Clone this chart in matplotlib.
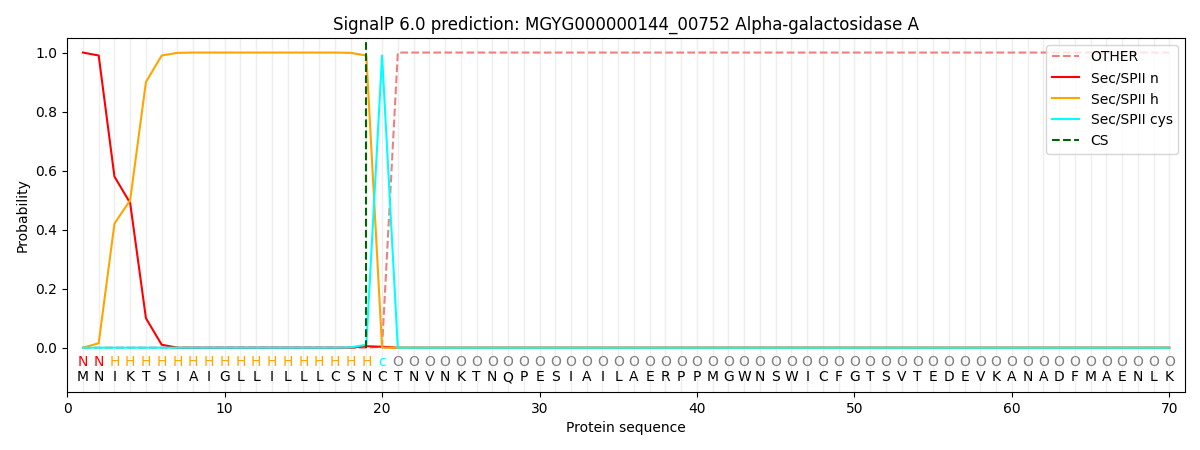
import numpy as np
import matplotlib
matplotlib.use("Agg")
import matplotlib.pyplot as plt

sequence = "MNIKTSIAIGLLILLLCSNCTNVNKTNQPESIAILAERPPMGWNSWICFGTSVTEDEVKANADFMAENLK"
regions = "NN" + "H" * 17 + "c" + "O" * 50

n_res = len(sequence)
pos = np.arange(1, n_res + 1)

# probabilities
p_n = [1.0, 0.99, 0.58, 0.49, 0.10, 0.01, 0.0, 0.0, 0.0, 0.0,
       0.0, 0.0, 0.0, 0.0, 0.0, 0.0, 0.0, 0.0, 0.005, 0.003] + [0.0] * 50
p_h = [0.0, 0.015, 0.42, 0.50, 0.90, 0.99, 0.999, 1.0, 1.0, 1.0,
       1.0, 1.0, 1.0, 1.0, 1.0, 1.0, 1.0, 0.999, 0.99, 0.0] + [0.0] * 50
p_cys = [0.0] * 17 + [0.001, 0.01, 0.99] + [0.0] * 50
p_other = [0.0] * 19 + [0.003] + [1.0] * 50
cs_pos = 19

region_colors = {"N": "red", "H": "orange", "c": "cyan", "O": "grey"}

fig, ax = plt.subplots(figsize=(12, 4.5), dpi=100)

for p in pos:
    ax.axvline(p, color="#eeeeee", lw=1, zorder=0)

ax.plot(pos, p_other, color="lightcoral", ls="--", label="OTHER")
ax.plot(pos, p_n, color="red", label="Sec/SPII n")
ax.plot(pos, p_h, color="orange", label="Sec/SPII h")
ax.plot(pos, p_cys, color="cyan", label="Sec/SPII cys")
ax.vlines(cs_pos, 0, 1.035, color="darkgreen", ls="--", label="CS")

for i, (aa, r) in enumerate(zip(sequence, regions)):
    ax.text(pos[i], -0.1, aa, ha="center", va="center", fontsize=10)
    ax.text(pos[i], -0.048, r, ha="center", va="center", fontsize=10,
            color=region_colors[r])

ax.set_xlim(0, 71)
ax.set_ylim(-0.15, 1.05)
ax.set_xlabel("Protein sequence")
ax.set_ylabel("Probability")
ax.set_title("SignalP 6.0 prediction: MGYG000000144_00752 Alpha-galactosidase A")
ax.legend(loc="upper right")

plt.subplots_adjust(left=0.056, right=0.9875, top=0.916, bottom=0.129)
plt.savefig("out.png")
